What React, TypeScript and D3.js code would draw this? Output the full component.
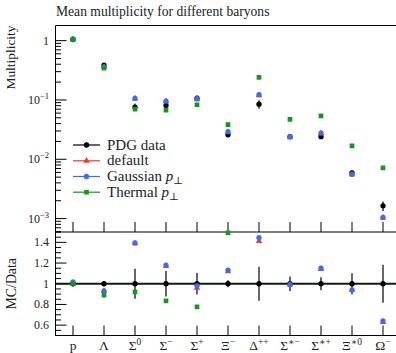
import React from "react";
import * as d3 from "d3";

// ---------- data ----------
const categories = ["p", "Λ", "Σ", "Σ", "Σ", "Ξ", "Δ", "Σ", "Σ", "Ξ", "Ω"];
const categorySup = ["", "", "0", "−", "+", "−", "++", "∗−", "∗+", "∗0", "−"];

const pdgValues = [1.046, 0.388, 0.076, 0.081, 0.107, 0.0258, 0.085, 0.024, 0.024, 0.0059, 0.00164];
const pdgErrors = [0.026, 0.009, 0.011, 0.010, 0.011, 0.0009, 0.014, 0.0017, 0.0015, 0.0006, 0.0003];
const defaultValues = [1.046, 0.361, 0.1056, 0.0948, 0.1027, 0.0289, 0.1199, 0.0238, 0.0274, 0.00555, 0.00103];
const gaussianValues = [1.065, 0.361, 0.106, 0.0956, 0.1049, 0.0292, 0.1228, 0.0238, 0.0276, 0.00555, 0.00105];
const thermalValues = [1.05, 0.345, 0.070, 0.0676, 0.0831, 0.0385, 0.24, 0.047, 0.054, 0.0168, 0.00716];

const mainTicks = [1, 0.1, 0.01, 0.001];
const mainTickExp = ["", "−1", "−2", "−3"];
const ratioTicks = [0.6, 0.8, 1, 1.2, 1.4];
const ratioTickLabels = ["0.6", "0.8", "1", "1.2", "1.4"];

const legendLabels = ["PDG data", "default", "Gaussian", "Thermal"];

// ---------- layout ----------
const W = 396;
const H = 353;
const left = 55.5;
const right = 402;
const mainTop = 25.5;
const mainBottom = 232;
const ratioBottom = 335.5;
const FONT = "'Liberation Serif', 'DejaVu Serif', serif";

const colData = "#000000";
const colDefault = "#ee3a1e";
const colGauss = "#3d6cf2";
const colThermal = "#16991a";

const x = d3.scaleLinear().domain([0, 10]).range([73, 383]);
const yMain = d3.scaleLog().domain([5.94e-4, 1.8]).range([mainBottom, mainTop]);
const yRatio = d3.scaleLinear().domain([0.5, 1.5]).range([ratioBottom, mainBottom]);

const circlePath = d3.symbol(d3.symbolCircle, 22)()!;
const squarePath = d3.symbol(d3.symbolSquare, 22)()!;
const trianglePath = d3.symbol(d3.symbolTriangle, 18)()!;

type Series = { values: number[]; color: string; path: string };
const mcSeries: Series[] = [
  { values: defaultValues, color: colDefault, path: trianglePath },
  { values: gaussianValues, color: colGauss, path: circlePath },
  { values: thermalValues, color: colThermal, path: squarePath },
];

function minorMainTicks(): number[] {
  const out: number[] = [];
  for (let e = -4; e <= 0; e++) {
    for (let k = 2; k <= 9; k++) {
      const v = k * Math.pow(10, e);
      const [a, b] = yMain.domain();
      if (v > a && v < b) out.push(v);
    }
  }
  return out;
}

function minorRatioTicks(): number[] {
  const out: number[] = [];
  for (let i = 0; i <= 20; i++) {
    const v = 0.5 + i * 0.05;
    const r = Math.round(v * 100) / 100;
    if (!ratioTicks.some((t) => Math.abs(t - r) < 1e-6)) out.push(r);
  }
  return out;
}

export default function App() {
  const minorMain = minorMainTicks();
  const minorRatio = minorRatioTicks();
  const legendY = [145, 160.8, 176.5, 192.2];
  const legendStyles = [
    { color: colData, path: circlePath },
    { color: colDefault, path: trianglePath },
    { color: colGauss, path: circlePath },
    { color: colThermal, path: squarePath },
  ];

  return (
    <svg
      width={W}
      height={H}
      style={{ position: "absolute", left: 0, top: 0, background: "#fff" }}
      fontFamily={FONT}
    >
      <defs>
        <clipPath id="ratioClip">
          <rect x={left} y={mainBottom} width={right - left} height={ratioBottom - mainBottom} />
        </clipPath>
        <clipPath id="mainClip">
          <rect x={left} y={mainTop} width={right - left} height={mainBottom - mainTop} />
        </clipPath>
      </defs>

      {/* title */}
      <text x={56} y={16} fontSize={13.6} fill="#222">
        Mean multiplicity for different baryons
      </text>

      {/* axis titles */}
      <text
        transform={`translate(15,${mainTop}) rotate(-90)`}
        textAnchor="end"
        fontSize={13.4}
        fill="#222"
      >
        Multiplicity
      </text>
      <text
        transform={`translate(16,${(mainBottom + ratioBottom) / 2}) rotate(-90)`}
        textAnchor="middle"
        fontSize={13.8}
        fill="#222"
      >
        MC/Data
      </text>

      {/* main panel frame */}
      <line x1={left} x2={right} y1={mainTop} y2={mainTop} stroke="#000" strokeWidth={1} />
      <line x1={left} x2={left} y1={mainTop} y2={ratioBottom} stroke="#000" strokeWidth={1} />
      <line x1={left} x2={right} y1={mainBottom} y2={mainBottom} stroke="#000" strokeWidth={1.2} />
      <line x1={left} x2={right} y1={ratioBottom} y2={ratioBottom} stroke="#000" strokeWidth={1.2} />

      {/* main y ticks */}
      {mainTicks.map((t, i) => (
        <g key={"mt" + i}>
          <line x1={left} x2={left + 11} y1={yMain(t)} y2={yMain(t)} stroke="#000" strokeWidth={1} />
          <text x={49} y={yMain(t) + 4} textAnchor="end" fontSize={12} fill="#222">
            {mainTickExp[i] === "" ? "1" : "10"}
            {mainTickExp[i] !== "" && (
              <tspan dy={-5} fontSize={8.5}>
                {mainTickExp[i]}
              </tspan>
            )}
          </text>
        </g>
      ))}
      {minorMain.map((t, i) => (
        <line key={"mm" + i} x1={left} x2={left + 5.5} y1={yMain(t)} y2={yMain(t)} stroke="#000" strokeWidth={1} />
      ))}

      {/* ratio y ticks */}
      {ratioTicks.map((t, i) => (
        <g key={"rt" + i}>
          <line x1={left} x2={left + 11} y1={yRatio(t)} y2={yRatio(t)} stroke="#000" strokeWidth={1} />
          <text x={49} y={yRatio(t) + 4} textAnchor="end" fontSize={12} fill="#222">
            {ratioTickLabels[i]}
          </text>
        </g>
      ))}
      {minorRatio.map((t, i) => (
        <line key={"mr" + i} x1={left} x2={left + 5.5} y1={yRatio(t)} y2={yRatio(t)} stroke="#000" strokeWidth={1} />
      ))}

      {/* x ticks and labels */}
      {categories.map((c, i) => (
        <g key={"xc" + i}>
          <line x1={x(i)} x2={x(i)} y1={mainBottom - 10} y2={mainBottom} stroke="#000" strokeWidth={1} />
          <line x1={x(i)} x2={x(i)} y1={ratioBottom - 10} y2={ratioBottom} stroke="#000" strokeWidth={1} />
          <text x={x(i)} y={350} textAnchor="middle" fontSize={13.5} fill="#222">
            {c}
            {categorySup[i] !== "" && (
              <tspan dy={-5.5} fontSize={9.5}>
                {categorySup[i]}
              </tspan>
            )}
          </text>
        </g>
      ))}

      {/* main panel data */}
      <g clipPath="url(#mainClip)">
        {pdgValues.map((v, i) => (
          <g key={"pd" + i}>
            <line
              x1={x(i)}
              x2={x(i)}
              y1={yMain(v + pdgErrors[i])}
              y2={yMain(Math.max(v - pdgErrors[i], 1e-6))}
              stroke={colData}
              strokeWidth={1.2}
            />
            <path d={circlePath} transform={`translate(${x(i)},${yMain(v)})`} fill={colData} />
          </g>
        ))}
        {mcSeries.map((s, si) =>
          s.values.map((v, i) => (
            <path
              key={"ms" + si + "-" + i}
              d={s.path}
              transform={`translate(${x(i)},${yMain(v)})`}
              fill={s.color}
            />
          ))
        )}
      </g>

      {/* ratio panel */}
      <g clipPath="url(#ratioClip)">
        <line x1={left} x2={right} y1={yRatio(1)} y2={yRatio(1)} stroke="#0b1f0b" strokeWidth={2} />
        {pdgValues.map((v, i) => (
          <g key={"rd" + i}>
            <line
              x1={x(i)}
              x2={x(i)}
              y1={yRatio(1 + pdgErrors[i] / v)}
              y2={yRatio(1 - pdgErrors[i] / v)}
              stroke={colData}
              strokeWidth={1.2}
            />
            <path d={circlePath} transform={`translate(${x(i)},${yRatio(1)})`} fill={colData} />
          </g>
        ))}
      </g>
      {mcSeries.map((s, si) =>
        s.values.map((v, i) => {
          const r = v / pdgValues[i];
          if (r < 0.5 || r > 1.5) return null;
          return (
            <path
              key={"rs" + si + "-" + i}
              d={s.path}
              transform={`translate(${x(i)},${yRatio(r)})`}
              fill={s.color}
            />
          );
        })
      )}

      {/* legend */}
      {legendLabels.map((lab, i) => (
        <g key={"lg" + i}>
          <line x1={73} x2={100} y1={legendY[i]} y2={legendY[i]} stroke={legendStyles[i].color} strokeWidth={1.2} />
          <path d={legendStyles[i].path} transform={`translate(86.5,${legendY[i]})`} fill={legendStyles[i].color} />
          <text x={107} y={legendY[i] + 4.5} fontSize={15} fill="#222">
            {lab}
            {i >= 2 && (
              <>
                {" "}
                <tspan fontStyle="italic">p</tspan>
                <tspan dy={3} fontSize={10.5}>⊥</tspan>
              </>
            )}
          </text>
        </g>
      ))}
    </svg>
  );
}
